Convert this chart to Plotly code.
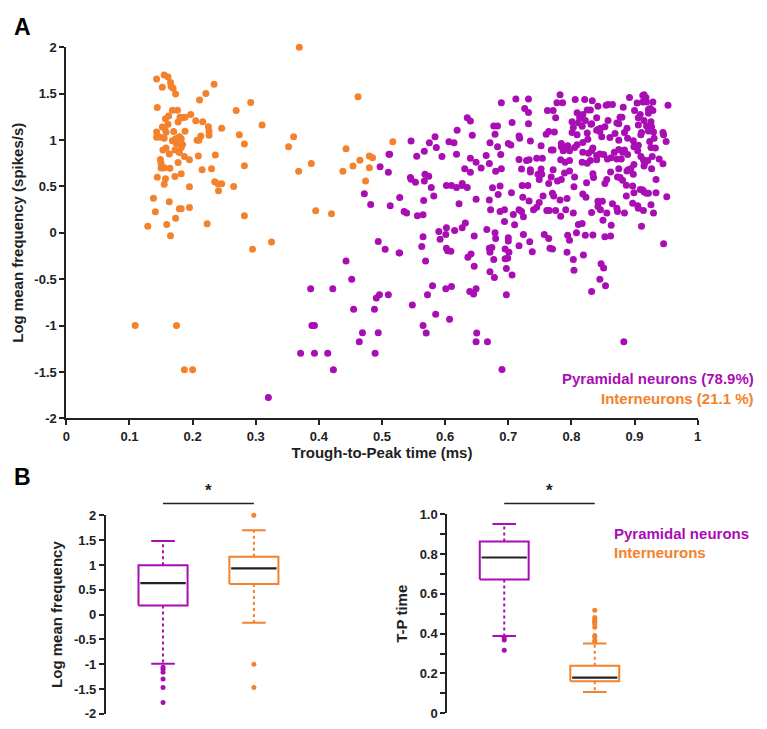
import plotly.graph_objects as go

PURPLE = "#A90DB4"
ORANGE = "#F4812C"
AXC = "#222222"
FONT = "Liberation Sans"

# ---------------- Panel A data (Trough-to-Peak time, log mean frequency) --------------
inter_x = [0.129,0.143,0.155,0.161,0.165,0.152,0.166,0.169,0.173,0.234,0.221,0.211,0.144,0.168,0.176,0.162,0.157,0.180,0.184,0.188,
           0.197,0.205,0.216,0.269,0.292,0.310,0.177,0.161,0.152,0.156,0.143,0.158,0.170,0.188,0.225,0.226,0.226,0.246,0.274,0.282,
           0.213,0.207,0.210,0.143,0.149,0.155,0.168,0.179,0.182,0.173,0.174,0.184,0.182,0.158,0.153,0.172,0.179,0.163,0.187,0.209,
           0.195,0.236,0.149,0.177,0.150,0.153,0.150,0.155,0.164,0.215,0.230,0.282,0.182,0.144,0.157,0.172,0.155,0.235,0.240,0.246,
           0.195,0.265,0.241,0.138,0.163,0.141,0.179,0.182,0.195,0.173,0.159,0.223,0.282,0.368,0.360,0.352,0.388,0.369,0.395,0.420,
           0.462,0.517,0.443,0.438,0.454,0.465,0.480,0.485,0.480,0.474,0.165,0.295,0.325,0.109,0.1745,0.187,0.200]
inter_y = [0.071,1.657,1.699,1.678,1.618,1.568,1.575,1.558,1.494,1.600,1.501,1.430,1.349,1.320,1.320,1.257,1.228,1.246,1.239,1.246,
           1.274,1.207,1.196,1.317,1.405,1.161,1.193,1.168,1.140,1.126,1.087,1.083,1.090,1.094,1.143,1.097,1.051,1.126,1.055,0.956,
           1.044,0.998,0.998,1.030,1.030,1.019,0.991,1.034,1.012,1.012,0.963,0.952,0.920,0.913,0.892,0.892,0.864,0.850,0.821,0.828,
           0.786,0.839,0.789,0.758,0.750,0.701,0.697,0.701,0.694,0.680,0.690,0.722,0.637,0.598,0.581,0.605,0.524,0.549,0.527,0.527,
           0.496,0.499,0.453,0.372,0.333,0.227,0.258,0.258,0.273,0.156,0.088,0.096,0.184,0.662,1.034,0.927,0.747,2.0,0.237,0.205,
           1.466,0.981,0.906,0.662,0.719,0.782,0.828,0.807,0.701,0.559,-0.032,-0.178,-0.099,-1.0,-1.0,-1.477,-1.477]

pyr_x = [
    # x 0.3-0.55, lower/left region
    0.511,0.497,0.510,0.472,0.482,0.513,0.528,0.494,0.505,0.527,0.443,0.452,0.496,0.491,0.387,0.422,0.455,0.488,0.389,0.393,
    0.469,0.494,0.464,0.371,0.393,0.414,0.489,0.423,0.320,
    # y < 0 region, x > 0.5
    0.565,0.592,0.601,0.646,0.680,0.700,0.700,0.724,0.734,0.757,0.764,0.794,0.797,0.822,0.834,0.853,0.862,0.946,0.528,0.563,
    0.569,0.602,0.604,0.609,0.636,0.641,0.646,0.670,0.674,0.671,0.677,0.695,0.701,0.695,0.699,0.697,0.706,0.671,0.678,0.717,
    0.738,0.766,0.770,0.793,0.803,0.804,0.819,0.847,0.851,0.845,0.854,0.832,0.510,0.548,0.572,0.580,0.601,0.610,0.639,0.645,
    0.649,0.697,0.585,0.607,0.565,0.570,0.650,0.649,0.667,0.883,0.690,
    # y >= 0, upper dense cloud
    0.782,0.913,0.915,0.918,0.892,0.712,0.732,0.806,0.821,0.833,0.689,0.777,0.786,0.904,0.913,0.919,0.929,0.953,0.842,0.855,
    0.858,0.865,0.882,0.726,0.732,0.762,0.771,0.809,0.825,0.830,0.818,0.900,0.922,0.925,0.929,0.922,0.909,0.775,0.813,0.840,
    0.635,0.640,0.801,0.811,0.822,0.832,0.858,0.877,0.880,0.906,0.915,0.926,0.677,0.683,0.706,0.732,0.803,0.817,0.831,0.842,
    0.846,0.840,0.845,0.853,0.872,0.875,0.888,0.906,0.919,0.927,0.619,0.643,0.679,0.717,0.718,0.764,0.773,0.801,0.809,0.825,
    0.869,0.884,0.911,0.910,0.922,0.930,0.945,0.946,0.546,0.575,0.584,0.606,0.614,0.671,0.700,0.704,0.735,0.760,0.752,0.784,
    0.794,0.809,0.818,0.826,0.834,0.848,0.861,0.875,0.889,0.898,0.906,0.924,0.931,0.950,0.926,0.933,0.512,0.555,0.567,0.586,
    0.595,0.618,0.683,0.768,0.771,0.784,0.787,0.792,0.797,0.805,0.818,0.827,0.832,0.840,0.845,0.851,0.868,0.875,0.881,0.884,
    0.889,0.899,0.905,0.910,0.914,0.916,0.921,0.928,0.939,0.945,0.640,0.649,0.665,0.670,0.688,0.717,0.729,0.733,0.745,0.754,
    0.783,0.790,0.797,0.817,0.825,0.830,0.840,0.857,0.863,0.872,0.879,0.890,0.894,0.899,0.915,0.927,0.631,0.640,0.657,0.680,
    0.689,0.721,0.735,0.735,0.752,0.753,0.771,0.789,0.797,0.834,0.835,0.862,0.873,0.877,0.888,0.898,0.875,0.545,0.546,0.568,
    0.574,0.553,0.567,0.578,0.602,0.610,0.618,0.627,0.627,0.635,0.675,0.687,0.722,0.731,0.747,0.749,0.768,0.764,0.778,0.784,
    0.804,0.805,0.824,0.853,0.856,0.881,0.887,0.897,0.909,0.913,0.915,0.922,0.934,0.934,0.926,0.930,0.951,
    # y 0-0.45 lower cloud
    0.535,0.539,0.556,0.565,0.566,0.582,0.622,0.649,0.670,0.684,0.705,0.723,0.733,0.740,0.745,0.749,0.755,0.770,0.772,0.782,
    0.793,0.791,0.803,0.818,0.823,0.832,0.842,0.846,0.849,0.842,0.856,0.865,0.872,0.873,0.884,0.887,0.897,0.899,0.905,0.906,
    0.914,0.919,0.672,0.687,0.694,0.708,0.717,0.721,0.724,0.761,0.765,0.775,0.783,0.694,0.710,0.666,0.679,0.590,0.602,0.615,
    0.627,0.632,0.811,0.817,0.850,0.863,0.808,0.911,
]
pyr_y = [
    0.846,0.712,0.651,0.421,0.304,0.290,0.379,-0.095,-0.179,-0.218,-0.305,-0.502,-0.667,-0.702,-0.604,-0.604,-0.825,-0.825,-1.0,-1.0,
    -1.077,-1.077,-1.175,-1.298,-1.298,-1.298,-1.298,-1.477,-1.775,
    -0.042,-0.070,-0.018,-0.035,-0.063,-0.053,-0.088,-0.018,-0.098,-0.018,-0.063,-0.028,-0.081,-0.028,-0.025,-0.042,-0.035,-0.119,-0.218,-0.147,
    -0.305,-0.168,-0.193,-0.200,-0.263,-0.228,-0.361,-0.168,-0.158,-0.210,-0.288,-0.175,-0.210,-0.281,-0.274,-0.386,-0.456,-0.421,-0.481,-0.140,
    -0.204,-0.168,-0.175,-0.210,-0.288,-0.404,-0.239,-0.333,-0.379,-0.502,-0.572,-0.632,-0.667,-0.779,-0.667,-0.572,-0.604,-0.579,-0.632,-0.660,
    -0.604,-0.667,-0.877,-0.933,-1.0,-1.081,-1.081,-1.175,-1.175,-1.175,-1.474,
    1.487,1.480,1.487,1.458,1.458,1.441,1.441,1.437,1.437,1.423,1.402,1.402,1.402,1.398,1.409,1.409,1.409,1.373,1.363,1.373,
    1.381,1.381,1.352,1.338,1.296,1.317,1.317,1.292,1.324,1.324,1.274,1.317,1.327,1.338,1.317,1.288,1.274,1.239,1.239,1.239,
    1.239,1.204,1.196,1.186,1.211,1.175,1.211,1.246,1.246,1.239,1.211,1.196,1.150,1.150,1.189,1.175,1.133,1.147,1.168,1.112,
    1.126,1.104,1.090,1.143,1.182,1.175,1.126,1.161,1.150,1.140,1.104,1.051,1.062,1.044,1.019,1.090,1.087,1.080,1.055,1.076,
    1.069,1.080,1.080,1.055,1.097,1.087,1.080,1.055,0.988,0.970,1.034,0.981,0.970,0.970,0.963,0.945,0.988,1.062,0.938,0.963,
    0.938,0.949,0.973,1.009,0.913,1.034,1.027,0.998,1.019,0.991,0.942,0.984,1.019,0.984,0.920,0.913,0.846,0.825,0.878,0.920,
    0.821,0.846,0.927,0.892,0.892,0.927,0.885,0.913,0.885,0.920,0.867,0.857,0.885,0.832,0.850,0.842,0.867,0.896,0.867,0.892,
    0.842,0.927,0.885,0.821,0.786,0.750,0.779,0.821,0.796,0.743,0.803,0.761,0.832,0.747,0.842,0.789,0.779,0.786,0.803,0.803,
    0.786,0.761,0.779,0.761,0.750,0.779,0.786,0.796,0.807,0.796,0.796,0.680,0.690,0.736,0.719,0.690,0.690,0.651,0.697,0.662,
    0.690,0.687,0.680,0.655,0.687,0.630,0.680,0.644,0.665,0.637,0.595,0.655,0.602,0.595,0.665,0.630,0.690,0.595,0.577,0.630,
    0.609,0.545,0.559,0.488,0.510,0.510,0.488,0.510,0.531,0.488,0.485,0.503,0.510,0.510,0.630,0.573,0.602,0.531,0.559,0.573,
    0.496,0.602,0.538,0.531,0.573,0.566,0.513,0.503,0.467,0.460,0.439,0.425,0.573,0.432,0.301,0.212,0.389,
    0.230,0.212,0.184,0.195,0.347,0.396,0.312,0.361,0.354,0.411,0.432,0.382,0.343,0.248,0.276,0.326,0.396,0.425,0.396,0.354,
    0.368,0.248,0.212,0.418,0.382,0.219,0.340,0.248,0.340,0.283,0.212,0.312,0.265,0.230,0.212,0.396,0.319,0.432,0.290,0.265,
    0.241,0.425,0.248,0.230,0.248,0.198,0.248,0.230,0.173,0.241,0.241,0.241,0.177,0.120,0.085,0.035,0.000,0.014,0.053,0.025,
    0.053,0.106,0.088,0.099,0.135,0.081,0.000,0.071,
]

# ---------------- Panel B data (box summaries) ----------------
box_groups = ["Pyramidal neurons", "Interneurons"]
box_pos = [1, 2]
box_colors = [PURPLE, ORANGE]

# Log mean frequency: [lower whisker, Q1, median, Q3, upper whisker]
freq_stats = [[-0.99, 0.185, 0.635, 0.995, 1.485], [-0.165, 0.615, 0.93, 1.165, 1.70]]
freq_outliers = [[-1.06, -1.10, -1.16, -1.30, -1.47, -1.77], [2.0, -1.0, -1.47]]

# T-P time
tp_stats = [[0.388, 0.672, 0.783, 0.864, 0.951], [0.107, 0.16, 0.179, 0.238, 0.351]]
tp_outliers = [[0.379, 0.368, 0.317],
               [0.517, 0.481, 0.473, 0.465, 0.457, 0.448, 0.432, 0.391, 0.383, 0.366, 0.358]]

BOX_HALF = 0.27
CAP_HALF = 0.13

fig = go.Figure()

# Panel A scatter
fig.add_trace(go.Scatter(x=inter_x, y=inter_y, mode="markers", xaxis="x", yaxis="y",
                         marker=dict(color=ORANGE, size=7), cliponaxis=False, showlegend=False,
                         name="Interneurons"))
fig.add_trace(go.Scatter(x=pyr_x, y=pyr_y, mode="markers", xaxis="x", yaxis="y",
                         marker=dict(color=PURPLE, size=7), cliponaxis=False, showlegend=False,
                         name="Pyramidal neurons"))


def add_boxes(stats, outliers, xa, ya):
    for pos, st, outs, col in zip(box_pos, stats, outliers, box_colors):
        lo, q1, med, q3, hi = st
        # whiskers (dotted)
        fig.add_trace(go.Scatter(x=[pos, pos, None, pos, pos], y=[q3, hi, None, q1, lo], mode="lines",
                                 xaxis=xa, yaxis=ya, line=dict(color=col, width=2, dash="dot"),
                                 showlegend=False, hoverinfo="skip"))
        # caps
        fig.add_trace(go.Scatter(x=[pos - CAP_HALF, pos + CAP_HALF, None, pos - CAP_HALF, pos + CAP_HALF],
                                 y=[hi, hi, None, lo, lo], mode="lines", xaxis=xa, yaxis=ya,
                                 line=dict(color=col, width=2), showlegend=False, hoverinfo="skip"))
        # box
        fig.add_trace(go.Scatter(x=[pos - BOX_HALF, pos + BOX_HALF, pos + BOX_HALF, pos - BOX_HALF, pos - BOX_HALF],
                                 y=[q1, q1, q3, q3, q1], mode="lines", xaxis=xa, yaxis=ya,
                                 fill="toself", fillcolor="white",
                                 line=dict(color=col, width=2), showlegend=False, hoverinfo="skip"))
        # median
        fig.add_trace(go.Scatter(x=[pos - BOX_HALF + 0.02, pos + BOX_HALF - 0.02], y=[med, med], mode="lines",
                                 xaxis=xa, yaxis=ya, line=dict(color=AXC, width=2.2),
                                 showlegend=False, hoverinfo="skip"))
        # outliers
        fig.add_trace(go.Scatter(x=[pos] * len(outs), y=outs, mode="markers", xaxis=xa, yaxis=ya,
                                 marker=dict(color=col, size=5), cliponaxis=False,
                                 showlegend=False, hoverinfo="skip"))


add_boxes(freq_stats, freq_outliers, "x2", "y2")
add_boxes(tp_stats, tp_outliers, "x3", "y3")

W, H = 767, 729
def px_x(p): return p / W
def px_y(p): return 1 - p / H

tickfont = dict(family=FONT, size=13, color=AXC, weight="bold")
titlefont = dict(family=FONT, size=15, color=AXC, weight="bold")

axis_common = dict(showline=True, linecolor=AXC, linewidth=2, ticks="outside", ticklen=5, tickwidth=2,
                   tickcolor=AXC, showgrid=False, zeroline=False, tickfont=tickfont)

a_yvals = [2, 1.5, 1, 0.5, 0, -0.5, -1, -1.5, -2]
a_xvals = [0, 0.1, 0.2, 0.3, 0.4, 0.5, 0.6, 0.7, 0.8, 0.9, 1]

fig.update_layout(
    width=W, height=H, margin=dict(l=0, r=0, t=0, b=0),
    paper_bgcolor="white", plot_bgcolor="white",
    font=dict(family=FONT, color=AXC),
    xaxis=dict(domain=[px_x(63), px_x(701)], range=[0, 1], anchor="y",
               tickvals=a_xvals, ticktext=[("%g" % v) for v in a_xvals],
               title=dict(text="Trough-to-Peak time (ms)", font=titlefont, standoff=5), **axis_common),
    yaxis=dict(domain=[px_y(420), px_y(41)], range=[-2, 2], anchor="x",
               tickvals=a_yvals, ticktext=[("%g" % v) for v in a_yvals],
               title=dict(text="Log mean frequency (spikes/s)", font=titlefont, standoff=7), **axis_common),
    xaxis2=dict(domain=[px_x(103), px_x(300)], range=[0.3715, 2.517], anchor="y2", visible=False),
    yaxis2=dict(domain=[px_y(721.7), px_y(519)], range=[-2, 2], anchor="x2",
                tickvals=a_yvals, ticktext=[("%g" % v) for v in a_yvals],
                title=dict(text="Log mean frequency", font=titlefont, standoff=8), **axis_common),
    xaxis3=dict(domain=[px_x(448), px_x(640)], range=[0.3716, 2.47], anchor="y3", visible=False),
    yaxis3=dict(domain=[px_y(721), px_y(518)], range=[0, 1], anchor="x3",
                tickvals=[0, 0.2, 0.4, 0.6, 0.8, 1.0], ticktext=["0", "0.2", "0.4", "0.6", "0.8", "1.0"],
                minor=dict(tickvals=[0.1, 0.3, 0.5, 0.7, 0.9], ticks="outside", ticklen=5, tickwidth=2,
                           tickcolor=AXC),
                title=dict(text="T-P time", font=titlefont, standoff=8), **axis_common),
)

ann = []
ann.append(dict(text="A", x=px_x(8), y=px_y(5), xref="paper", yref="paper", xanchor="left", yanchor="top",
                showarrow=False, font=dict(family=FONT, size=23, color="black", weight="bold")))
ann.append(dict(text="B", x=px_x(8), y=px_y(465), xref="paper", yref="paper", xanchor="left", yanchor="top",
                showarrow=False, font=dict(family=FONT, size=23, color="black", weight="bold")))
ann.append(dict(text="Pyramidal neurons (78.9%)", x=px_x(760), y=px_y(379), xref="paper", yref="paper",
                xanchor="right", yanchor="middle", showarrow=False,
                font=dict(family=FONT, size=15, color=PURPLE, weight="bold")))
ann.append(dict(text="Interneurons (21.1 %)", x=px_x(760), y=px_y(400), xref="paper", yref="paper",
                xanchor="right", yanchor="middle", showarrow=False,
                font=dict(family=FONT, size=15, color=ORANGE, weight="bold")))
ann.append(dict(text="Pyramidal neurons", x=px_x(614), y=px_y(538), xref="paper", yref="paper",
                xanchor="left", yanchor="middle", showarrow=False,
                font=dict(family=FONT, size=15, color=PURPLE, weight="bold")))
ann.append(dict(text="Interneurons", x=px_x(614), y=px_y(557), xref="paper", yref="paper",
                xanchor="left", yanchor="middle", showarrow=False,
                font=dict(family=FONT, size=15, color=ORANGE, weight="bold")))
# significance stars
for xa in ["x2", "x3"]:
    ann.append(dict(text="*", x=1.5, y=px_y(505), xref=xa, yref="paper", xanchor="center", yanchor="bottom",
                    showarrow=False, font=dict(family=FONT, size=17, color=AXC, weight="bold")))
fig.update_layout(annotations=ann)

shapes = []
for xa in ["x2", "x3"]:
    shapes.append(dict(type="line", xref=xa, yref="paper", x0=1, x1=2, y0=px_y(507), y1=px_y(507),
                       line=dict(color=AXC, width=1.5)))
fig.update_layout(shapes=shapes)

fig.write_html("out.html")
